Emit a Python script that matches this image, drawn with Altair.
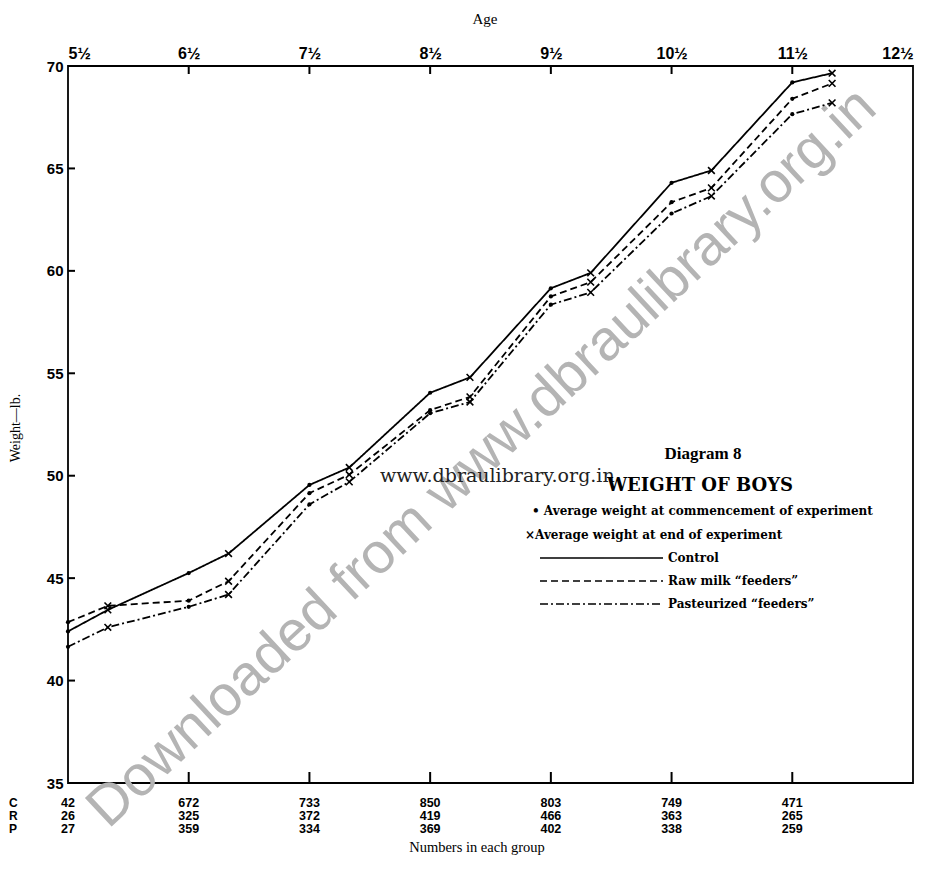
import altair as alt
import pandas as pd

# ---------------- data ----------------
ages = [5.5, 5.83, 6.5, 6.83, 7.5, 7.83, 8.5, 8.83, 9.5, 9.83, 10.5, 10.83, 11.5, 11.83]
stage = ["start", "end"] * 7
control = [42.4, 43.45, 45.25, 46.2, 49.55, 50.4, 54.05, 54.8, 59.15, 59.9, 64.3, 64.9, 69.2, 69.65]
raw_milk = [42.85, 43.65, 43.9, 44.85, 49.15, 50.05, 53.2, 53.85, 58.75, 59.45, 63.35, 64.05, 68.4, 69.15]
pasteurized = [41.65, 42.6, 43.6, 44.2, 48.6, 49.7, 53.05, 53.6, 58.35, 58.95, 62.8, 63.65, 67.65, 68.2]
series_names = ["Control", "Raw milk", "Pasteurized"]

group_ages = [5.5, 6.5, 7.5, 8.5, 9.5, 10.5, 11.5]
count_c = [42, 672, 733, 850, 803, 749, 471]
count_r = [26, 325, 372, 419, 466, 363, 265]
count_p = [27, 359, 334, 369, 402, 338, 259]
row_letters = ["C", "R", "P"]

top_tick_ages = [5.5, 6.5, 7.5, 8.5, 9.5, 10.5, 11.5, 12.5]
inner_tick_ages = [6.5, 7.5, 8.5, 9.5, 10.5, 11.5]
weight_ticks = [35, 40, 45, 50, 55, 60, 65, 70]
inner_weight_ticks = [40, 45, 50, 55, 60, 65]

legend_texts = [
    "\u2022 Average weight at commencement of experiment",
    "\u00d7Average weight at end of experiment",
]
legend_series = ["Control", "Raw milk \u201cfeeders\u201d", "Pasteurized \u201cfeeders\u201d"]

# ---------------- tables ----------------
rows = []
for name, vals in zip(series_names, [control, raw_milk, pasteurized]):
    for a, s, v in zip(ages, stage, vals):
        rows.append({"age": a, "stage": s, "weight": v, "series": name})
df = pd.DataFrame(rows)

W, H = 845, 717
serif = "Liberation Serif"
sans = "Liberation Sans"

xscale = alt.Scale(domain=[5.5, 12.5], nice=False, zero=False)
yscale = alt.Scale(domain=[35, 70], nice=False, zero=False)
x_axis = alt.Axis(orient="top", values=top_tick_ages, labelExpr="floor(datum.value) + '\u00bd'",
                  labelFlush=True, labelFont=sans, labelFontWeight="bold", labelFontSize=16,
                  labelPadding=5, labelColor="black", ticks=False, domain=False, grid=False, title=None)
y_axis = alt.Axis(orient="left", values=weight_ticks, labelFont=sans, labelFontWeight="bold",
                  labelFontSize=15, labelPadding=5, labelColor="black", ticks=False, domain=False,
                  grid=False, title=None)
X = alt.X("age:Q", scale=xscale, axis=x_axis)
Y = alt.Y("weight:Q", scale=yscale, axis=y_axis)

layers = []

# watermark
layers.append(
    alt.Chart(pd.DataFrame({"t": ["Downloaded from www.dbraulibrary.org.in"]}))
    .mark_text(angle=317, fontSize=57, font=sans, color="#b4b4b4", align="center", baseline="middle")
    .encode(text="t:N", x=alt.value(414), y=alt.value(392))
)
layers.append(
    alt.Chart(pd.DataFrame({"t": ["www.dbraulibrary.org.in"]}))
    .mark_text(fontSize=19, font="DejaVu Serif", color="#222222", align="left", baseline="middle")
    .encode(text="t:N", x=alt.value(312), y=alt.value(410))
)

# lines
layers.append(
    alt.Chart(df).mark_line(color="black", strokeWidth=1.8).encode(
        x=X, y=Y,
        strokeDash=alt.StrokeDash("series:N", scale=alt.Scale(domain=series_names,
                                  range=[[1, 0], [7, 4], [8, 3, 2, 3]]), legend=None),
        detail="series:N",
    )
)
# commencement dots
layers.append(
    alt.Chart(df).transform_filter(alt.datum.stage == "start")
    .mark_point(shape="circle", filled=True, size=18, color="black", opacity=1)
    .encode(x=X, y=Y)
)
# end crosses
layers.append(
    alt.Chart(df).transform_filter(alt.datum.stage == "end")
    .mark_point(shape="M-1,-1L1,1M-1,1L1,-1", filled=False, size=45, color="black",
                strokeWidth=1.6, opacity=1)
    .encode(x=X, y=Y)
)

# inward ticks
tick_df = pd.DataFrame({"age": inner_tick_ages})
layers.append(alt.Chart(tick_df).mark_rule(color="black", strokeWidth=2)
              .encode(x=X, y=alt.value(0), y2=alt.value(8)))
layers.append(alt.Chart(tick_df).mark_rule(color="black", strokeWidth=2)
              .encode(x=X, y=alt.value(H - 11), y2=alt.value(H)))
layers.append(alt.Chart(pd.DataFrame({"weight": inner_weight_ticks})).mark_rule(color="black", strokeWidth=2)
              .encode(y=Y, x=alt.value(0), x2=alt.value(7)))

# counts table
for letter, counts, yy in zip(row_letters, [count_c, count_r, count_p], [737, 750, 763]):
    cdf = pd.DataFrame({"age": group_ages, "n": counts})
    layers.append(
        alt.Chart(cdf).mark_text(font=sans, fontWeight="bold", fontSize=12.5, align="center",
                                 baseline="middle", color="black")
        .encode(x=X, y=alt.value(yy), text="n:Q")
    )
    layers.append(
        alt.Chart(pd.DataFrame({"t": [letter]})).mark_text(font=sans, fontWeight="bold", fontSize=12,
                                                           align="left", baseline="middle", color="black")
        .encode(text="t:N", x=alt.value(-59), y=alt.value(yy))
    )

# titles
def label(t, x, y, size, font=serif, weight="normal", align="center", angle=0):
    kw = dict(font=font, fontSize=size, fontWeight=weight, align=align, baseline="middle", color="black")
    if angle:
        kw["angle"] = angle
    return (alt.Chart(pd.DataFrame({"t": [t]})).mark_text(**kw)
            .encode(text="t:N", x=alt.value(x), y=alt.value(y)))

layers.append(label("Age", 417, -47, 15))
layers.append(label("Weight\u2014lb.", -52, 362, 14, angle=270))
layers.append(label("Numbers in each group", 409, 782, 14.5))

# legend block
layers.append(label("Diagram 8", 635, 388, 17, weight="bold"))
layers.append(label("WEIGHT OF BOYS", 632, 420, 18, font="DejaVu Serif", weight="bold"))
layers.append(label(legend_texts[0], 464, 445, 12, font="DejaVu Serif", weight="bold", align="left"))
layers.append(label(legend_texts[1], 457, 469, 12, font="DejaVu Serif", weight="bold", align="left"))
for name, dash, yy in zip(legend_series, [[1, 0], [7, 4], [8, 3, 2, 3]], [492, 515, 538]):
    layers.append(
        alt.Chart(pd.DataFrame({"t": [name]})).mark_rule(color="black", strokeWidth=1.6, strokeDash=dash)
        .encode(x=alt.value(472), x2=alt.value(595), y=alt.value(yy))
    )
    layers.append(label(name, 600, yy, 12, font="DejaVu Serif", weight="bold", align="left"))

chart = (
    alt.layer(*layers)
    .properties(width=W, height=H, padding={"left": 60, "top": 58, "right": 5, "bottom": 76},
                autosize=alt.AutoSizeParams(type="none"), background="white")
    .configure_view(stroke="black", strokeWidth=1.8)
)

chart.save("out.html", embed_options={"renderer": "svg", "actions": False})
